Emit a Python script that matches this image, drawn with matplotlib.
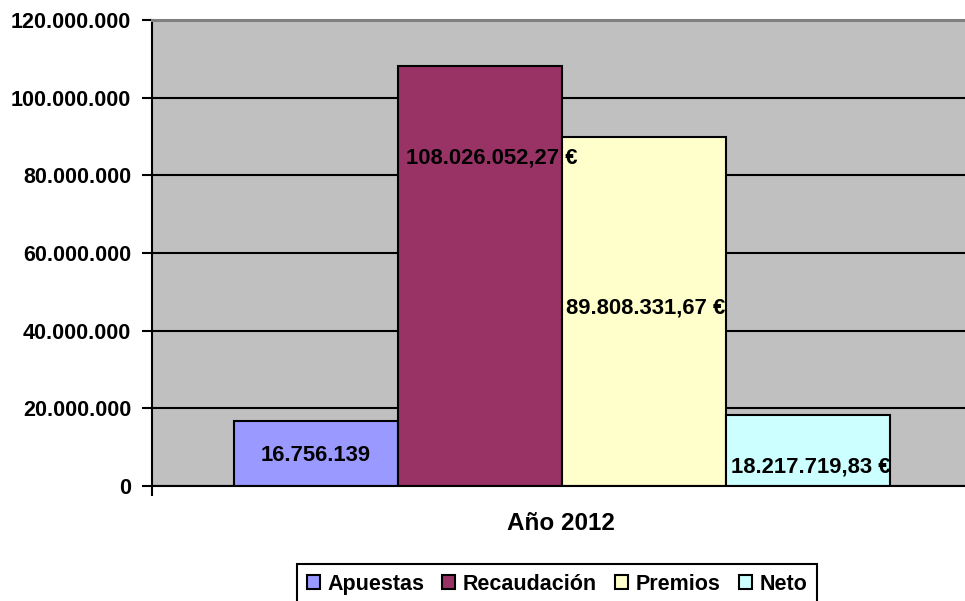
import numpy as np
import matplotlib.pyplot as plt
from matplotlib.ticker import FuncFormatter

# %% data
categories = ['Apuestas', 'Recaudación', 'Premios', 'Neto']
values = [16756139, 108026052.27, 89808331.67, 18217719.83]
bar_labels = ['16.756.139', '108.026.052,27 €', '89.808.331,67 €', '18.217.719,83 €']
colors = ['#9999FF', '#993366', '#FFFFCC', '#CCFFFF']
group_label = 'Año 2012'
yticks = [0, 20e6, 40e6, 60e6, 80e6, 100e6, 120e6]

# label placement (fraction of bar height, x offset in bar widths)
lab_frac = [0.475, 0.783, 0.51, 0.265]
lab_dx = [0.0, 0.07, 0.01, 0.02]

plt.rcParams['font.family'] = ['Liberation Sans', 'DejaVu Sans']
plt.rcParams['font.weight'] = 'bold'
fs = 15.5

# %% plot
fig = plt.figure(figsize=(9.65, 6.01), dpi=100)
ax = fig.add_axes([152/965, 115/601, 1 - 152/965, 466/601])
ax.set_facecolor('#C0C0C0')

x = np.arange(len(categories))
ax.set_axisbelow(True)
ax.yaxis.grid(True, color='black', lw=1.5)
bars = ax.bar(x, values, width=1.0, color=colors, edgecolor='black', lw=1.5,
              label=categories)

for i, b in enumerate(bars):
    ax.text(x[i] + lab_dx[i], values[i]*lab_frac[i], bar_labels[i],
            ha='center', va='center', fontsize=15.8, fontweight='bold')

ax.set_xlim(-1.0, 3.96)
ax.set_ylim(0, 120e6)
ax.set_yticks(yticks)
ax.yaxis.set_major_formatter(FuncFormatter(lambda v, p: f'{int(v):,}'.replace(',', '.')))
ax.tick_params(axis='y', direction='out', length=7, width=1.5, pad=8, labelsize=fs)
ax.set_xticks([-1.0])
ax.set_xticklabels([''])
ax.tick_params(axis='x', direction='out', length=7, width=1.5)
for lbl in ax.get_yticklabels():
    lbl.set_fontweight('bold')

ax.spines['left'].set_linewidth(1.5)
ax.spines['bottom'].set_linewidth(1.5)
ax.spines['top'].set_color('#808080')
ax.spines['top'].set_linewidth(2.2)
ax.spines['right'].set_visible(False)

fig.text(561/965, 1 - 523/601, group_label, ha='center', va='center',
         fontsize=17.5, fontweight='bold')

leg = fig.legend(handles=bars, labels=categories, loc='upper left',
                 bbox_to_anchor=(297/965, 1 - 564/601), borderaxespad=0, ncol=4,
                 fontsize=fs, handlelength=0.6, handleheight=0.6,
                 handletextpad=0.35, columnspacing=0.85, borderpad=0.45,
                 fancybox=False, framealpha=1, edgecolor='black')
leg.get_frame().set_linewidth(1.5)

fig.savefig('out.png', dpi=100)
